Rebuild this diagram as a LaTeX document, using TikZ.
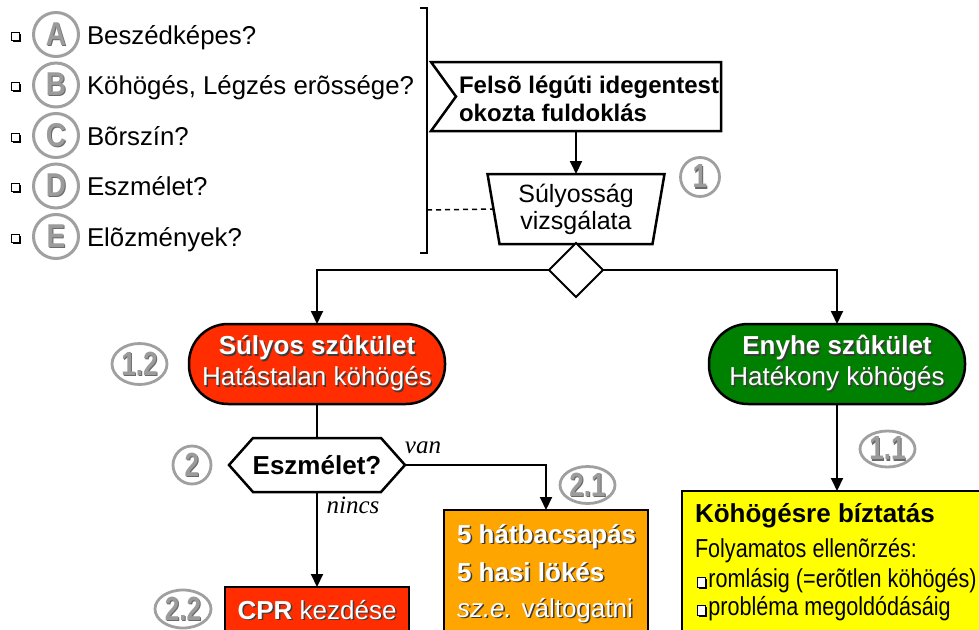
\documentclass[tikz,border=0pt]{standalone}
\usepackage{fontspec}
\usepackage{graphicx}
\setmainfont{Liberation Sans}
\newfontfamily\serifit{Liberation Serif}
\usetikzlibrary{shapes.geometric,arrows.meta,calc}
\definecolor{redc}{RGB}{255,45,0}
\definecolor{greenc}{RGB}{0,128,0}
\definecolor{orangec}{RGB}{255,165,0}
\definecolor{yellowc}{RGB}{255,255,0}
\definecolor{lblline}{RGB}{160,160,160}
\definecolor{lbltext}{RGB}{155,155,155}
\definecolor{lblshadow}{RGB}{105,105,105}
\definecolor{shadowc}{RGB}{60,60,60}
\newcommand\shtext[1]{{\rlap{\kern1.5pt\raisebox{-1.5pt}{\color{shadowc}#1}}#1}}
\newcommand\shtextc[2]{{\rlap{\kern1.2pt\raisebox{-1.2pt}{\color{#1}#2}}#2}}
\newcommand\qbx{\tikz[baseline=0pt]{\fill[black] (1.8pt,-1.8pt) rectangle (11.3pt,7.7pt); \draw[fill=white,line width=1pt] (0pt,0pt) rectangle (9.5pt,9.5pt);}\hspace{2pt}}
\begin{document}
\begin{tikzpicture}[x=1pt,y=-1pt,
  every node/.style={inner sep=0pt,outer sep=0pt},
  arr/.style={line width=2pt,-{Triangle[width=12pt,length=13pt]}},
  conn/.style={line width=2pt},
  dashline/.style={line width=1.5pt,dash pattern=on 5pt off 4pt},
  border/.style={line width=2.5pt},
  pill/.style={rectangle,rounded corners=39pt,draw=black,line width=2.5pt,minimum width=256pt,minimum height=80pt,align=center,text=white,font=\fontsize{26}{31}\selectfont},
  numlbl/.style={ellipse,draw=lblline,line width=2.8pt,text=lbltext,font=\bfseries\fontsize{33.5}{33.5}\selectfont},
  letc/.style={ellipse,draw=lblline,line width=3pt,minimum width=45pt,minimum height=44pt,text=lbltext,font=\bfseries\fontsize{33}{33}\selectfont},
  listtxt/.style={anchor=base west,font=\fontsize{25.8}{25.8}\selectfont},
  whitetxt/.style={anchor=base west,text=white,font=\fontsize{26}{26}\selectfont},
  blacktxt/.style={anchor=base west,text=black,font=\fontsize{26}{26}\selectfont},
  italbl/.style={anchor=base,font=\serifit\itshape\fontsize{25}{25}\selectfont}]
\useasboundingbox (0,0) rectangle (979,629);
\clip (0,0) rectangle (979,629);
\fill[white] (0,0) rectangle (979,629);

% ---- left list ----
\foreach \cy in {36,86.5,137,187.5,238}{
  \fill[black] (12.5,\cy-2.5) rectangle (20.5,\cy+5.5);
  \filldraw[fill=white,draw=black,line width=0.9pt] (11,\cy-4) rectangle (19,\cy+4);
}
\node[letc] (cA) at (56,34.5) {\scalebox{0.85}[1]{\shtextc{lblshadow}{A}}};
\node[letc] (cB) at (56,85) {\scalebox{0.85}[1]{\shtextc{lblshadow}{B}}};
\node[letc] (cC) at (56,135.5) {\scalebox{0.85}[1]{\shtextc{lblshadow}{C}}};
\node[letc] (cD) at (56,186) {\scalebox{0.85}[1]{\shtextc{lblshadow}{D}}};
\node[letc] (cE) at (56,236.5) {\scalebox{0.85}[1]{\shtextc{lblshadow}{E}}};
\node[listtxt] (tA) at (87,44) {Beszédképes?};
\node[listtxt] (tB) at (87,94.5) {Köhögés, Légzés erõssége?};
\node[listtxt] (tC) at (87,145) {Bõrszín?};
\node[listtxt] (tD) at (87,195.5) {Eszmélet?};
\node[listtxt] (tE) at (87,246) {Elõzmények?};

% ---- bracket ----
\draw[line width=1.5pt] (420,8) -- (427,8) -- (427,253) -- (420,253);
\coordinate (brk) at (427,210);

% ---- flag ----
\node[minimum width=290pt,minimum height=69pt] (flag) at (576,96.5) {};
\draw[border,fill=white] (flag.north west) -- (flag.north east) -- (flag.south east) -- (flag.south west) -- ([xshift=25pt]flag.west) -- cycle;
\node[anchor=west,align=left,font=\bfseries\fontsize{24}{28}\selectfont] (flagtxt) at ([xshift=28pt,yshift=-2pt]flag.west) {Felsõ légúti idegentest\\okozta fuldoklás};

% ---- trapezium ----
\node[minimum width=177pt,minimum height=70pt,align=center,font=\fontsize{25}{27}\selectfont] (trap) at (576,209) {Súlyosság\\vizsgálata};
\draw[border] (trap.north west) -- (trap.north east) -- ([xshift=-12pt]trap.south east) -- ([xshift=12pt]trap.south west) -- cycle;
\draw[arr] (flag.south) -- (trap.north);
\draw[dashline] (brk) -- ([xshift=6pt]trap.west);
\node[numlbl,minimum width=39pt,minimum height=39pt] (n1) at (700,177) {\scalebox{0.78}[1]{\shtextc{lblshadow}{1}}};

% ---- decision diamond ----
\node[diamond,draw=black,line width=2pt,fill=white,minimum width=54pt,minimum height=54pt] (dia) at (576,270) {};

% ---- severity nodes ----
\node[pill,fill=redc] (red) at (317,364) {\shtext{\textbf{Súlyos szûkület}}\\\shtext{Hatástalan köhögés}};
\node[pill,fill=greenc] (green) at (837,364) {\shtext{\textbf{Enyhe szûkület}}\\\shtext{Hatékony köhögés}};
\draw[arr] (dia.west) -| (red.north);
\draw[arr] (dia.east) -| (green.north);
\node[numlbl,minimum width=55pt,minimum height=41pt] (n12) at (139.5,364) {\scalebox{0.78}[1]{\shtextc{lblshadow}{1.2}}};

% ---- consciousness hexagon ----
\node[minimum width=176pt,minimum height=54pt,font=\bfseries\fontsize{26}{26}\selectfont] (esz) at (317,465) {Eszmélet?};
\draw[border] (esz.west) -- ([xshift=24pt]esz.north west) -- ([xshift=-24pt]esz.north east) -- (esz.east) -- ([xshift=-24pt]esz.south east) -- ([xshift=24pt]esz.south west) -- cycle;
\draw[conn] (red.south) -- (esz.north);
\node[numlbl,minimum width=38pt,minimum height=38pt] (n2) at (192,465) {\scalebox{0.78}[1]{\shtextc{lblshadow}{2}}};

% ---- orange box ----
\node[draw=black,border,fill=orangec,minimum width=204pt,minimum height=150pt,anchor=north] (orange) at (546,510) {};
\draw[arr] (esz.east) -| (orange.north);
\node[italbl] (van) at (423,453) {van};
\node[whitetxt] (o1) at (457,543) {\shtext{\textbf{5 hátbacsapás}}};
\node[whitetxt] (o2) at (457,581) {\shtext{\textbf{5 hasi lökés}}};
\node[whitetxt] (o3) at (457,617) {\shtext{\textit{sz.e.} váltogatni}};
\node[numlbl,minimum width=55pt,minimum height=37pt] (n21) at (587.5,485) {\scalebox{0.78}[1]{\shtextc{lblshadow}{2.1}}};

% ---- CPR box ----
\node[draw=black,border,fill=redc,minimum width=184pt,minimum height=100pt,anchor=north] (cpr) at (317,587) {};
\draw[arr] (esz.south) -- (cpr.north);
\node[italbl] (nincs) at (353,513) {nincs};
\node[anchor=base,text=white,font=\fontsize{26}{26}\selectfont] (cprt) at (317,619) {\shtext{\textbf{CPR} kezdése}};
\node[numlbl,minimum width=56pt,minimum height=38pt] (n22) at (183,609) {\scalebox{0.78}[1]{\shtextc{lblshadow}{2.2}}};

% ---- yellow box ----
\node[draw=black,border,fill=yellowc,minimum width=310pt,minimum height=150pt,anchor=north] (yellow) at (837,491) {};
\draw[arr] (green.south) -- (yellow.north);
\node[numlbl,minimum width=55pt,minimum height=36pt] (n11) at (887.5,449) {\scalebox{0.78}[1]{\shtextc{lblshadow}{1.1}}};
\node[blacktxt] (y1) at (695,522) {\textbf{Köhögésre bíztatás}};
\node[blacktxt] (y2) at (695,557) {\scalebox{0.83}[1]{Folyamatos ellenõrzés:}};
\node[blacktxt] (y3) at (697,587) {\scalebox{0.83}[1]{\qbx romlásig (=erõtlen köhögés)}};
\node[blacktxt] (y4) at (697,615) {\scalebox{0.83}[1]{\qbx probléma megoldódásáig}};
\end{tikzpicture}
\end{document}
